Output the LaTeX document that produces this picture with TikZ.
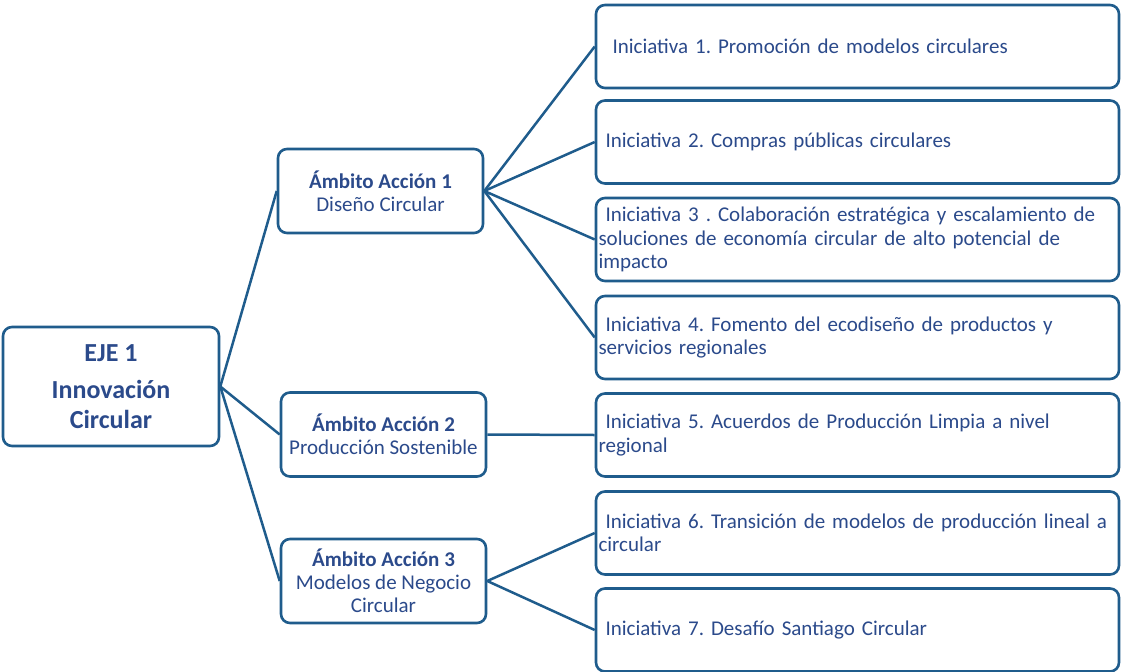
\documentclass[tikz,border=0pt]{standalone}
\usepackage{fontspec}
\setmainfont{Carlito}
\frenchspacing
\definecolor{bordc}{HTML}{1F5C8C}
\definecolor{txtc}{HTML}{2B4A8B}
\begin{document}
\begin{tikzpicture}[x=1pt,y=-1pt,
  box/.style={draw=bordc, line width=2.6pt, rounded corners=9pt, text=txtc, fill=white},
  ambito/.style={box, minimum width=205pt, minimum height=84pt, align=center, inner sep=2pt,
    font=\fontsize{21}{23}\selectfont},
  inic/.style={box, minimum width=523pt, minimum height=83pt, align=left, inner xsep=2.5pt,
    text width=518pt, font=\fontsize{21}{23.5}\selectfont\frenchspacing},
  conn/.style={draw=bordc, line width=2.5pt}]
\useasboundingbox (0,0) rectangle (1122,672);

\node[box, minimum width=216pt, minimum height=119pt, align=center,
  font=\fontsize{26}{30}\selectfont\bfseries] (eje) at (111,386.5)
  {EJE 1\\[7pt]Innovación\\Circular};

\node[ambito] (a1) at (380.5,191) {\textbf{Ámbito Acción 1}\\Diseño Circular};
\node[ambito] (a2) at (383.5,434.5) {\textbf{Ámbito Acción 2}\\Producción Sostenible};
\node[ambito] (a3) at (383.5,581) {\textbf{Ámbito Acción 3}\\Modelos de Negocio\\Circular};

\node[inic] (i1) at (857.5,46.5) {\ \ Iniciativa 1. Promoción de modelos circulares};
\node[inic] (i2) at (857.5,142) {\ Iniciativa 2. Compras públicas circulares};
\node[inic] (i3) at (857.5,239.5) {\ Iniciativa 3 . Colaboración estratégica y escalamiento de\\soluciones de economía circular de alto potencial de\\impacto};
\node[inic] (i4) at (857.5,337.5) {\ Iniciativa 4. Fomento del ecodiseño de productos y\\servicios regionales};
\node[inic] (i5) at (857.5,435) {\ Iniciativa 5. Acuerdos de Producción Limpia a nivel\\regional};
\node[inic] (i6) at (857.5,533) {\ Iniciativa 6. Transición de modelos de producción lineal a\\circular};
\node[inic] (i7) at (857.5,630) {\ Iniciativa 7. Desafío Santiago Circular};

\draw[conn] (eje.east) -- (a1.west);
\draw[conn] (eje.east) -- (a2.west);
\draw[conn] (eje.east) -- (a3.west);
\foreach \i in {i1,i2,i3,i4} \draw[conn] (a1.east) -- (\i.west);
\draw[conn] (a2.east) -- (i5.west);
\draw[conn] (a3.east) -- (i6.west);
\draw[conn] (a3.east) -- (i7.west);
\end{tikzpicture}
\end{document}
